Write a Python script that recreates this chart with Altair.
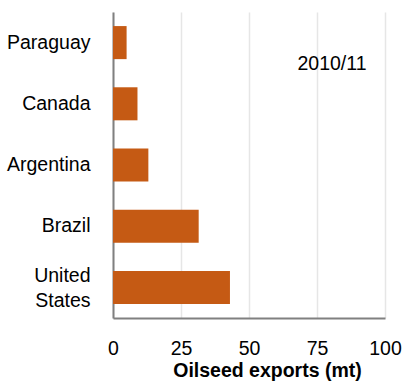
import altair as alt
import pandas as pd

countries = ["Paraguay", "Canada", "Argentina", "Brazil", "United States"]
exports = [5, 9, 13, 31.5, 43]
year_label = ["2010/11"]
year_x = [80.5]

df = pd.DataFrame({"country": countries, "exports": exports})
ann = pd.DataFrame({"label": year_label, "x": year_x})

FONT = "Liberation Sans"
FS = 19.5

bars = alt.Chart(df).mark_bar(color="#C55A14").encode(
    x=alt.X("exports:Q",
            scale=alt.Scale(domain=[0, 100], nice=False),
            axis=alt.Axis(values=[0, 25, 50, 75, 100], title="Oilseed exports (mt)",
                          grid=True, gridColor="#e6e6e6", gridWidth=1.5,
                          domainColor="#808080", domainWidth=2, ticks=False,
                          labelFlush=False, labelOverlap=False,
                          labelPadding=21, labelFontSize=FS, labelColor="#000",
                          labelFont=FONT, titleFont=FONT, titleFontSize=FS,
                          titleFontWeight="bold", titleColor="#000", titlePadding=4,
                          titleX=154, titleAlign="center", titleAnchor="start")),
    y=alt.Y("country:N", sort=countries,
            scale=alt.Scale(paddingInner=0.46, paddingOuter=0.23),
            axis=alt.Axis(title=None, ticks=False, domainColor="#808080", domainWidth=2,
                          labelPadding=23, labelFontSize=FS, labelColor="#000",
                          labelFont=FONT, labelLineHeight=25,
                          labelOffset={"condition": {"test": "datum.value == 'United States'", "value": -11}, "value": 0},
                          labelExpr="datum.value == 'United States' ? ['United', 'States'] : datum.value")),
)

text = alt.Chart(ann).mark_text(fontSize=FS, font=FONT, color="#000").encode(
    x="x:Q", y=alt.value(52), text="label:N"
)

chart = (bars + text).properties(
    width=272, height=306,
    padding={"left": 113, "top": 12, "right": 19, "bottom": 65},
    autosize="none",
).configure_view(stroke=None)

chart.save("out.html", embed_options={"renderer": "svg", "actions": False})
